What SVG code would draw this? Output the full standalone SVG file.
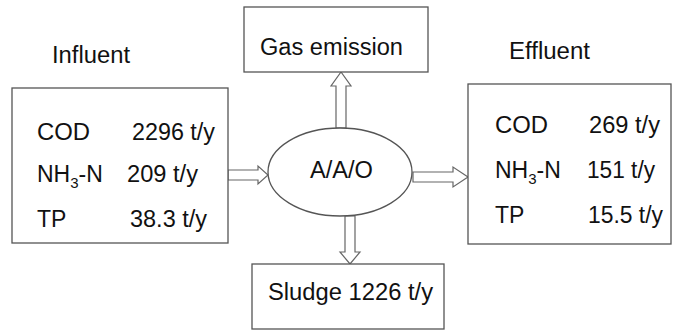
<svg xmlns="http://www.w3.org/2000/svg" width="674" height="333" viewBox="0 0 674 333">
<style>
.box{fill:#fff;stroke:#555;stroke-width:1.3}
.arr{fill:#fff;stroke:#666;stroke-width:1.2;stroke-linejoin:miter}
text{font-family:"Liberation Sans",Arial,sans-serif;font-size:23px;fill:#111}
.sub{font-size:15px}
</style>
<rect width="674" height="333" fill="#fff"/>
<text x="52" y="63" textLength="78" lengthAdjust="spacingAndGlyphs">Influent</text>
<text x="509" y="59" textLength="81" lengthAdjust="spacingAndGlyphs">Effluent</text>
<g id="connectors">
<polygon class="arr" points="228,170 258,170 258,166 268,175 258,184 258,180 228,180"/>
<polygon class="arr" points="413,172 453,172 453,167 468,177 453,187 453,182 413,182"/>
<polygon class="arr" points="336,128 336,86 331,86 341,72 351,86 346,86 346,128"/>
<polygon class="arr" points="345,216 345,252 340,252 350,264 360,252 355,252 355,216"/>
</g>
<g id="influent">
<rect class="box" x="12" y="88" width="216" height="155"/>
<text x="37" y="140" textLength="53" lengthAdjust="spacingAndGlyphs">COD</text>
<text x="132" y="140" textLength="83" lengthAdjust="spacingAndGlyphs">2296 t/y</text>
<text x="37" y="182">NH<tspan class="sub" dy="6">3</tspan><tspan dy="-6">-N</tspan></text>
<text x="127" y="182" textLength="71" lengthAdjust="spacingAndGlyphs">209 t/y</text>
<text x="37" y="227">TP</text>
<text x="130" y="227" textLength="77" lengthAdjust="spacingAndGlyphs">38.3 t/y</text>
</g>
<g id="gas">
<rect class="box" x="244" y="7" width="184" height="65"/>
<text x="260" y="55" textLength="143" lengthAdjust="spacingAndGlyphs">Gas emission</text>
</g>
<g id="aao">
<ellipse class="box" cx="340" cy="172" rx="72" ry="44"/>
<text x="310" y="178" textLength="63" lengthAdjust="spacingAndGlyphs">A/A/O</text>
</g>
<g id="effluent">
<rect class="box" x="468" y="84" width="203" height="160"/>
<text x="495" y="133" textLength="53" lengthAdjust="spacingAndGlyphs">COD</text>
<text x="589" y="133" textLength="71" lengthAdjust="spacingAndGlyphs">269 t/y</text>
<text x="495" y="178">NH<tspan class="sub" dy="6">3</tspan><tspan dy="-6">-N</tspan></text>
<text x="587" y="178" textLength="68" lengthAdjust="spacingAndGlyphs">151 t/y</text>
<text x="495" y="223">TP</text>
<text x="588" y="223" textLength="75" lengthAdjust="spacingAndGlyphs">15.5 t/y</text>
</g>
<g id="sludge">
<rect class="box" x="252" y="264" width="192" height="65"/>
<text x="268" y="300" textLength="165" lengthAdjust="spacingAndGlyphs">Sludge 1226 t/y</text>
</g>
</svg>
